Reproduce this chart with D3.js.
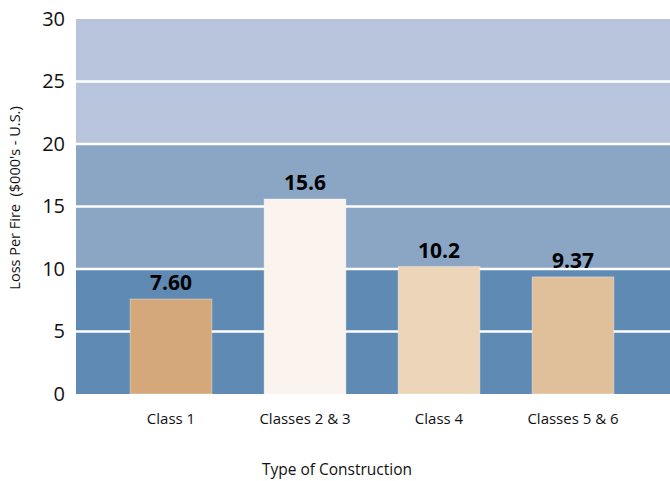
<!DOCTYPE html>
<html>
<head>
<meta charset="utf-8">
<script src="https://cdn.jsdelivr.net/npm/d3@7"></script>
<style>
  html, body { margin: 0; padding: 0; background: #fff; }
  svg { display: block; font-family: "Open Sans", "Noto Sans", sans-serif; }
</style>
</head>
<body>
<svg id="chart" width="670" height="481"></svg>
<script>
// Average loss per fire by type of construction
const categories = ["Class 1", "Classes 2 & 3", "Class 4", "Classes 5 & 6"];
const values = [7.60, 15.6, 10.2, 9.37];
const valueLabels = ["7.60", "15.6", "10.2", "9.37"];
const barColors = ["#d5a87b", "#fbf3ee", "#edd5b9", "#e0c09a"];
const yTicks = [0, 5, 10, 15, 20, 25, 30];
// Background bands behind the plot
const bandRanges = [[0, 10], [10, 20], [20, 30]];
const bandColors = ["#5f8ab3", "#8ba5c5", "#b7c4db"];

const svg = d3.select("#chart");
const plotLeft = 76, plotRight = 670;

const y = d3.scaleLinear().domain([0, 30]).range([394, 19]);
const x = d3.scaleBand().domain(categories).range([104, 640]).paddingInner(0.39).paddingOuter(0.195);

// Background bands
svg.append("g").selectAll("rect").data(bandRanges).join("rect")
  .attr("x", plotLeft).attr("width", plotRight - plotLeft)
  .attr("y", d => y(d[1])).attr("height", d => y(d[0]) - y(d[1]))
  .attr("fill", (d, i) => bandColors[i]);

// Horizontal white gridlines
svg.append("g").selectAll("line").data(yTicks.filter(t => t > 0 && t < 30)).join("line")
  .attr("x1", plotLeft).attr("x2", plotRight)
  .attr("y1", d => y(d)).attr("y2", d => y(d))
  .attr("stroke", "#ffffff").attr("stroke-width", 2.5);

// Bars
svg.append("g").selectAll("rect").data(values).join("rect")
  .attr("x", (d, i) => x(categories[i]))
  .attr("width", x.bandwidth())
  .attr("y", d => y(d))
  .attr("height", d => y(0) - y(d))
  .attr("fill", (d, i) => barColors[i])
  .attr("stroke", "rgba(255,255,255,0.35)")
  .attr("stroke-width", 1);

// Value labels above bars
svg.append("g").selectAll("text").data(values).join("text")
  .attr("x", (d, i) => x(categories[i]) + x.bandwidth() / 2)
  .attr("y", d => y(d) - 9)
  .attr("text-anchor", "middle")
  .attr("font-size", 21).attr("font-weight", "bold").attr("fill", "#000")
  .text((d, i) => valueLabels[i]);

// Y axis
const yAxis = svg.append("g").attr("transform", `translate(${plotLeft},0)`)
  .call(d3.axisLeft(y).tickValues(yTicks).tickSize(0).tickPadding(11));
yAxis.select(".domain").remove();
yAxis.selectAll("text").attr("font-size", 20).attr("fill", "#111")
  .attr("font-family", "\"Open Sans\", \"Noto Sans\", sans-serif");

// X axis labels
const xAxis = svg.append("g").attr("transform", `translate(0,${y(0)})`)
  .call(d3.axisBottom(x).tickSize(0).tickPadding(19));
xAxis.select(".domain").remove();
xAxis.selectAll("text").attr("font-size", 15).attr("fill", "#111")
  .attr("font-family", "\"Open Sans\", \"Noto Sans\", sans-serif");

// Axis titles
svg.append("text")
  .attr("x", 337).attr("y", 475)
  .attr("text-anchor", "middle").attr("font-size", 15.5).attr("fill", "#111")
  .text("Type of Construction");

svg.append("text")
  .attr("transform", "translate(20,198) rotate(-90)")
  .attr("text-anchor", "middle").attr("font-size", 14.5).attr("fill", "#111")
  .attr("xml:space", "preserve")
  .text("Loss Per Fire  ($000's - U.S.)");
</script>
</body>
</html>
